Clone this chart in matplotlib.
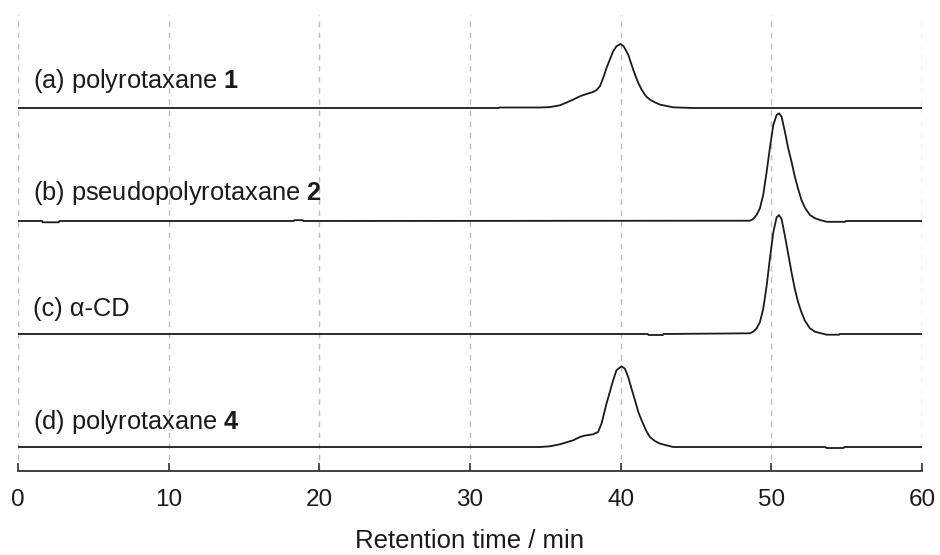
import matplotlib
matplotlib.use("Agg")
import matplotlib.pyplot as plt

plt.rcParams['font.family'] = ['Liberation Sans', 'DejaVu Sans']
plt.rcParams['mathtext.fontset'] = 'custom'
plt.rcParams['mathtext.rm'] = 'Liberation Sans'
plt.rcParams['mathtext.bf'] = 'Liberation Sans:bold'
plt.rcParams['mathtext.it'] = 'Liberation Sans:italic'

# ---- data (retention time in min, detector signal in arbitrary units) ----
labels = [r"(a) polyrotaxane $\mathbf{1}$",
          r"(b) pseudopolyrotaxane $\mathbf{2}$",
          "(c) \u03b1-CD",
          r"(d) polyrotaxane $\mathbf{4}$"]

time_a = [0, 31.9, 31.95, 34.64, 35.3, 35.97, 36.4, 36.85, 37.29, 37.73, 38.17, 38.4, 38.62,
          38.84, 39.06, 39.28, 39.5, 39.72, 39.99, 40.2, 40.5, 40.72, 40.95, 41.17, 41.39,
          41.68, 41.94, 42.27, 42.6, 43.48, 44.8, 60]
signal_a = [0, 0, 0.5, 0.5, 0.9, 2.7, 5.4, 8.4, 11.7, 14, 16, 18, 21.7,
            30, 40, 48.4, 56.7, 61.7, 64, 61.7, 53.4, 43.4, 33.4, 25, 18.4,
            11.7, 8.4, 5.7, 3.4, 0.7, 0, 0]

time_b = [0, 1.6, 1.65, 2.7, 2.75, 18.3, 18.35, 18.9, 18.95, 48.58, 48.8, 49.02, 49.24,
          49.46, 49.69, 49.9, 50.13, 50.35, 50.51, 50.68, 50.9, 51.12, 51.34, 51.56,
          51.78, 52.0, 52.23, 52.56, 52.9, 53.23, 53.67, 54.9, 54.95, 60]
signal_b = [0, 0, -1.3, -1.3, 0, 0, 0.8, 0.8, 0, 0.3, 2, 6, 12.7,
            26, 49.3, 72.7, 96, 106, 107.7, 104.3, 89.3, 72.7, 59.3, 44.3,
            32, 21, 13.3, 6, 2.7, 1, -0.8, -0.8, 0, 0]

time_c = [0, 41.8, 41.85, 42.8, 42.85, 48.58, 48.8, 49.02, 49.24, 49.46, 49.69, 49.9,
          50.13, 50.35, 50.51, 50.68, 50.9, 51.12, 51.34, 51.56, 51.78, 52.0, 52.23,
          52.56, 52.9, 53.23, 53.67, 54.5, 54.55, 60]
signal_c = [0, 0, -1, -1, 0, 0.7, 2.3, 5.7, 11.7, 25, 48.3, 75,
            101.7, 116.7, 119, 115, 98.3, 80, 61.7, 45, 31.7, 21.7, 13.3,
            5.7, 2.3, 1, -0.7, -0.7, 0, 0]

time_d = [0, 34.64, 35.3, 35.97, 36.4, 36.85, 37.29, 37.62, 38.17, 38.5, 38.73, 39.06,
          39.28, 39.5, 39.72, 40.05, 40.28, 40.5, 40.72, 40.95, 41.17, 41.39, 41.68,
          41.94, 42.27, 42.6, 43.48, 53.6, 53.65, 54.8, 54.85, 60]
signal_d = [0, 0, 0.7, 2.7, 4.7, 6.7, 10, 11.4, 12.7, 15, 23.4, 43.4,
            55, 66.7, 76.7, 80.7, 78.4, 70, 58.4, 46.7, 35, 26.7, 16.7,
            10, 6, 3.4, 0, 0, -1, -1, 0, 0]

x_ticks = [0, 10, 20, 30, 40, 50, 60]
x_label = "Retention time / min"

# ---- layout / style ----
offsets = [363, 250, 137, 24]
label_rise = [27, 28, 25, 25]
times = [time_a, time_b, time_c, time_d]
signals = [signal_a, signal_b, signal_c, signal_d]

fig = plt.figure(figsize=(9.4, 5.55), dpi=100)
ax = fig.add_axes([18/940, 1-471/555, 904/940, 456/555])

for t, s, off, lab, rise in zip(times, signals, offsets, labels, label_rise):
    ax.plot(t, [v + off for v in s], color='#1a1a1a', lw=1.3, solid_joinstyle='round')
    ax.text(1.0, off + rise, lab, fontsize=18.3, va='center', ha='left', color='#1a1a1a')

ax.set_xlim(0, 60)
ax.set_ylim(0, 456)
ax.set_xticks(x_ticks)
ax.set_xticklabels([str(v) for v in x_ticks])
ax.set_yticks([])
ax.xaxis.grid(True, color='#bdbdbd', linestyle=(0, (4, 4)), linewidth=1.0)
for sp in ['left', 'right', 'top']:
    ax.spines[sp].set_visible(False)
ax.spines['bottom'].set_color('#333333')
ax.spines['bottom'].set_linewidth(1.3)
ax.tick_params(axis='x', direction='in', length=6, width=1.2, color='#333333',
               labelsize=17.5, pad=13, labelcolor='#1a1a1a')
ax.set_xlabel(x_label, fontsize=18.5, labelpad=13, color='#1a1a1a')

fig.savefig("out.png", dpi=100)
